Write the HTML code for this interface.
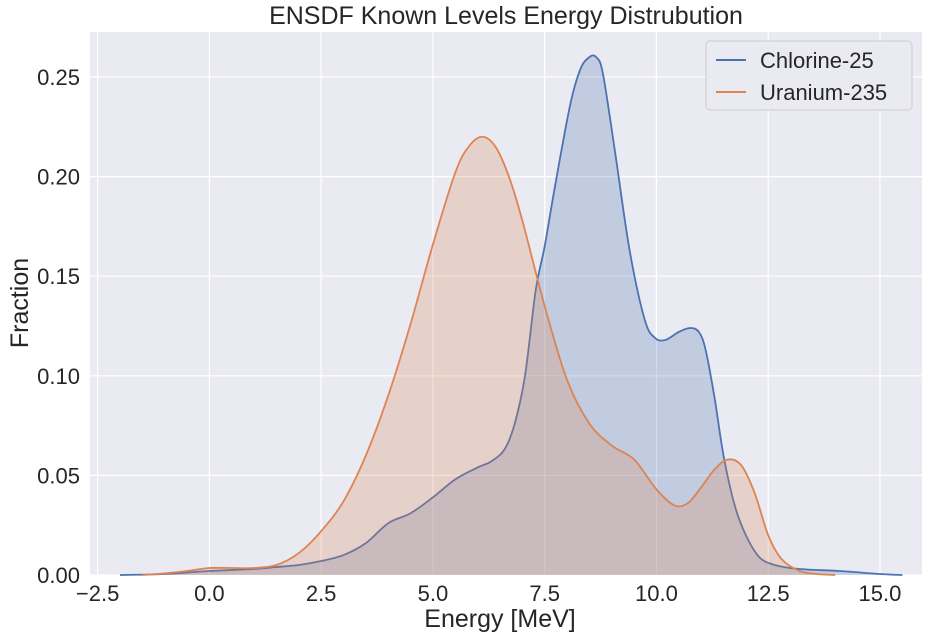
<!DOCTYPE html>
<html><head><meta charset="utf-8"><style>
body{margin:0;background:#fff;}
svg text{font-family:"Liberation Sans",sans-serif;fill:#262626;}
</style></head><body>
<svg id="chart" width="930" height="638">
<rect x="90" y="32" width="832" height="543" fill="#eaeaf2"/>
<g id="grid"></g><g id="series"></g><g id="axes"></g>
<text x="506" y="24" font-size="25" text-anchor="middle">ENSDF Known Levels Energy Distrubution</text>
<text x="500" y="627" font-size="25" text-anchor="middle">Energy [MeV]</text>
<text transform="translate(28,303) rotate(-90)" font-size="25" text-anchor="middle">Fraction</text>
<g>
<rect x="706" y="41" width="206" height="69" rx="4" fill="#eaeaf2" stroke="#cccccc"/>
<line x1="716" y1="60" x2="746" y2="60" stroke="#4c72b0" stroke-width="2"/>
<text x="760" y="68" font-size="22">Chlorine-25</text>
<line x1="716" y1="92" x2="746" y2="92" stroke="#dd8452" stroke-width="2"/>
<text x="760" y="100" font-size="22">Uranium-235</text>
</g>
</svg>
<script>
const xTicks=[-2.5,0,2.5,5,7.5,10,12.5,15];
const xTickLabels=["−2.5","0.0","2.5","5.0","7.5","10.0","12.5","15.0"];
const yTicks=[0,0.05,0.10,0.15,0.20,0.25];
const yTickLabels=["0.00","0.05","0.10","0.15","0.20","0.25"];
const chlorineX=[-2,-1,0,1,1.5,2,2.5,3,3.5,4,4.5,5,5.5,6,6.3,6.6,6.83,7.06,7.3,7.5,7.73,8.07,8.3,8.5,8.65,8.8,9.07,9.4,9.74,9.97,10.2,10.5,10.75,10.95,11.1,11.3,11.5,11.75,12,12.3,12.65,13.2,14.1,15,15.5];
const chlorineY=[0,0.0005,0.002,0.003,0.004,0.005,0.007,0.01,0.016,0.026,0.031,0.039,0.048,0.054,0.057,0.063,0.076,0.1,0.143,0.165,0.195,0.236,0.254,0.26,0.26,0.252,0.213,0.163,0.128,0.119,0.118,0.122,0.124,0.122,0.113,0.089,0.06,0.035,0.02,0.009,0.005,0.003,0.002,0.0005,0];
const uraniumX=[-1.5,-1,-0.5,0,0.5,1,1.5,2,2.5,3,3.5,4,4.5,5,5.5,5.8,6.1,6.4,6.7,7,7.5,8,8.5,9,9.5,10,10.4,10.7,11,11.3,11.6,11.9,12.2,12.5,12.8,13.2,13.6,14];
const uraniumY=[0,0.0008,0.002,0.0035,0.0035,0.0035,0.005,0.011,0.022,0.037,0.06,0.09,0.126,0.166,0.202,0.215,0.22,0.215,0.2,0.178,0.135,0.098,0.076,0.065,0.058,0.043,0.035,0.036,0.044,0.053,0.058,0.055,0.041,0.02,0.008,0.002,0.0005,0];
const X0=-2.67,X1=15.94,Y1=0.2726;
function sx(v){return 90+(v-X0)/(X1-X0)*832;}
function sy(v){return 575-v/Y1*543;}
const NS="http://www.w3.org/2000/svg";
function mk(tag,attrs,parent){const e=document.createElementNS(NS,tag);for(const k in attrs)e.setAttribute(k,attrs[k]);parent.appendChild(e);return e;}
const grid=document.getElementById('grid'),axes=document.getElementById('axes'),series=document.getElementById('series');
xTicks.forEach((t,i)=>{
 const l=mk('line',{x1:sx(t),x2:sx(t),y1:32,y2:575,stroke:'#fff','stroke-width':1.2},grid);
 
 
 const tx=mk('text',{x:sx(t),y:601,'font-size':22,'text-anchor':'middle'},axes);tx.textContent=xTickLabels[i];
 
 
});
yTicks.forEach((t,i)=>{
 const l=mk('line',{x1:90,x2:922,y1:sy(t),y2:sy(t),stroke:'#fff','stroke-width':1.2},grid);
 
 
 const tx=mk('text',{x:80,y:sy(t)+8,'font-size':22,'text-anchor':'end'},axes);tx.textContent=yTickLabels[i];
 
 
});
function smooth(xs,ys){
 const p=xs.map((x,i)=>[sx(x),sy(ys[i])]);let d='M'+p[0][0]+','+p[0][1];
 for(let i=0;i<p.length-1;i++){const a=p[i-1]||p[i],b=p[i],c=p[i+1],e=p[i+2]||c;
  d+=' C'+(b[0]+(c[0]-a[0])/6)+','+(b[1]+(c[1]-a[1])/6)+' '+(c[0]-(e[0]-b[0])/6)+','+(c[1]-(e[1]-b[1])/6)+' '+c[0]+','+c[1];}
 return d;
}
function draw(xs,ys,col,name){
 const d=smooth(xs,ys);
 const f=mk('path',{d:d+' L'+sx(xs[xs.length-1])+','+sy(0)+' L'+sx(xs[0])+','+sy(0)+'Z',fill:col,'fill-opacity':0.25},series);
 
 
 const l=mk('path',{d:d,fill:'none',stroke:col,'stroke-width':1.8},series);
 
 
}
draw(chlorineX,chlorineY,'#4c72b0','chlorine-25');
draw(uraniumX,uraniumY,'#dd8452','uranium-235');
</script>
</body></html>
